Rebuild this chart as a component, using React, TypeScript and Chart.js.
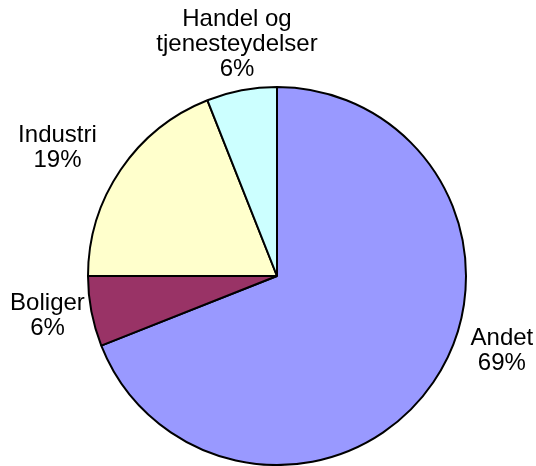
import React, { useEffect, useRef } from "react";
import { Chart, registerables } from "chart.js";

Chart.register(...registerables);

const categories = ["Andet", "Boliger", "Industri", "Handel og tjenesteydelser"];
const labelLines = [["Andet"], ["Boliger"], ["Industri"], ["Handel og", "tjenesteydelser"]];
const values = [69, 6, 19, 6];
const colors = ["#9999FF", "#993366", "#FFFFCC", "#CCFFFF"];

// label placement relative to each slice's mid-angle: radial distance, angle nudge (deg)
const labelPlacement = [
  { d: 237, da: -15.8 },
  { d: 233, da: 0.9 },
  { d: 254, da: -4 },
  { d: 235, da: 1 },
];

const labelPlugin = {
  id: "outsideLabels",
  afterDraw(chart: any) {
    const ctx = chart.ctx;
    const meta = chart.getDatasetMeta(0);
    const data = chart.data.datasets[0].data as number[];
    const total = data.reduce((a, b) => a + b, 0);
    ctx.save();
    ctx.font = "24px 'Liberation Sans', Arial, sans-serif";
    ctx.fillStyle = "#000";
    ctx.textAlign = "center";
    ctx.textBaseline = "middle";
    const lh = 25;
    meta.data.forEach((arc: any, i: number) => {
      const p = arc.getProps(["x", "y", "startAngle", "endAngle"], true);
      const mid = (p.startAngle + p.endAngle) / 2 + (labelPlacement[i].da * Math.PI) / 180;
      const cx = p.x + Math.cos(mid) * labelPlacement[i].d;
      const cy = p.y + Math.sin(mid) * labelPlacement[i].d;
      const lines = [...labelLines[i], Math.round((data[i] / total) * 100) + "%"];
      const top = cy - ((lines.length - 1) * lh) / 2;
      lines.forEach((t, k) => ctx.fillText(t, cx, top + k * lh));
    });
    ctx.restore();
  },
};

export default function App() {
  const ref = useRef<HTMLCanvasElement>(null);
  useEffect(() => {
    document.body.style.margin = "0";
    const chart = new Chart(ref.current!, {
      type: "pie",
      data: {
        labels: categories,
        datasets: [
          {
            data: values,
            backgroundColor: colors,
            borderColor: "#000",
            borderWidth: 2,
          },
        ],
      },
      options: {
        responsive: false,
        animation: false,
        layout: { padding: { left: 87, right: 69, top: 86, bottom: 0 } },
        plugins: {
          legend: { display: false },
          tooltip: { enabled: false },
        },
      },
      plugins: [labelPlugin],
    });
    return () => chart.destroy();
  }, []);
  return (
    <div style={{ position: "fixed", left: 0, top: 0, width: 536, height: 466, background: "#fff" }}>
      <canvas ref={ref} width={536} height={466} />
    </div>
  );
}
